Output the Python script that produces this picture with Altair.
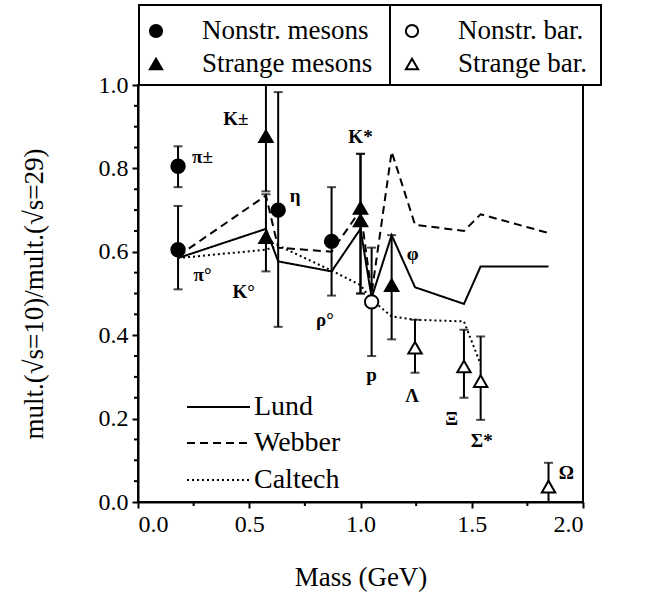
import altair as alt
import pandas as pd

FONT = "Liberation Serif"

nm_names = ["π±", "π°", "η", "ρ°"]
nm_mass = [0.18, 0.18, 0.63, 0.87]
nm_val = [0.805, 0.605, 0.70, 0.625]
nm_lo = [0.755, 0.51, 0.42, 0.495]
nm_hi = [0.853, 0.71, 0.983, 0.755]

sm_names = ["K±", "K°", "K*", "K*", "φ"]
sm_mass = [0.575, 0.575, 1.0, 1.0, 1.14]
sm_val = [0.877, 0.635, 0.705, 0.675, 0.52]
sm_lo = [0.745, 0.553, 0.50, 0.50, 0.39]
sm_hi = [1.0, 0.738, 0.835, 0.835, 0.64]

nb_names = ["p"]
nb_mass = [1.05]
nb_val = [0.48]
nb_lo = [0.35]
nb_hi = [0.61]

sb_names = ["Λ", "Ξ", "Σ*", "Ω"]
sb_mass = [1.245, 1.465, 1.54, 1.845]
sb_val = [0.37, 0.325, 0.29, 0.037]
sb_lo = [0.31, 0.25, 0.197, 0.0]
sb_hi = [0.437, 0.413, 0.397, 0.094]

# ---- model curves ----
model_mass = [0.18, 0.575, 0.63, 0.87, 1.0, 1.05, 1.14, 1.245, 1.465, 1.54, 1.845]
lund = [0.585, 0.655, 0.577, 0.553, 0.655, 0.49, 0.64, 0.515, 0.475, 0.565, 0.565]
webber = [0.59, 0.735, 0.61, 0.60, 0.70, 0.50, 0.84, 0.665, 0.65, 0.69, 0.645]
caltech = [0.585, 0.605, 0.615, 0.555, 0.52, 0.485, 0.445, 0.437, 0.433, 0.33]

# ---- particle labels ----
label_text = ["π±", "π°", "K±", "K°", "η", "ρ°", "K*", "φ", "p", "Λ", "Ξ", "Σ*", "Ω"]
label_x = [0.29, 0.29, 0.44, 0.475, 0.706, 0.84, 1.0, 1.234, 1.05, 1.232, 1.41, 1.545, 1.925]
label_y = [0.827, 0.545, 0.918, 0.503, 0.735, 0.437, 0.875, 0.595, 0.305, 0.255, 0.198, 0.146, 0.07]

x_ticks = [0.0, 0.5, 1.0, 1.5, 2.0]
x_minor = [0.25, 0.75, 1.25, 1.75]
y_ticks = [0.0, 0.2, 0.4, 0.6, 0.8, 1.0]
y_minor = [0.05, 0.1, 0.15, 0.25, 0.3, 0.35, 0.45, 0.5, 0.55, 0.65, 0.7, 0.75, 0.85, 0.9, 0.95]

groups = ["Nonstr. mesons", "Strange mesons", "Nonstr. bar.", "Strange bar."]

rows = []
for g, names, m, v, lo, hi in [
    (groups[0], nm_names, nm_mass, nm_val, nm_lo, nm_hi),
    (groups[1], sm_names, sm_mass, sm_val, sm_lo, sm_hi),
    (groups[2], nb_names, nb_mass, nb_val, nb_lo, nb_hi),
    (groups[3], sb_names, sb_mass, sb_val, sb_lo, sb_hi),
]:
    for i in range(len(names)):
        rows.append({"group": g, "name": names[i], "mass": m[i], "val": v[i], "lo": lo[i], "hi": hi[i]})
pts = pd.DataFrame(rows)

mrows = []
for name, vals in [("Lund", lund), ("Webber", webber), ("Caltech", caltech)]:
    for i, v in enumerate(vals):
        mrows.append({"model": name, "mass": model_mass[i], "val": v, "order": i})
models = pd.DataFrame(mrows)

labels = pd.DataFrame({"t": label_text, "x": label_x, "y": label_y})

W, H = 445, 417
xs = alt.Scale(domain=[0, 2], nice=False)
ys = alt.Scale(domain=[0, 1], nice=False)

X = alt.X("mass:Q", scale=xs, axis=alt.Axis(values=x_ticks, format=".1f", title="Mass (GeV)"))
Y = alt.Y("val:Q", scale=ys, axis=alt.Axis(values=y_ticks, format=".1f", title="mult.(√s=10)/mult.(√s=29)"))

dash = {"Lund": [1, 0], "Webber": [8, 5], "Caltech": [2, 3]}
line_layers = []
for name in ["Lund", "Webber", "Caltech"]:
    line_layers.append(
        alt.Chart(models[models.model == name]).mark_line(color="black", strokeWidth=2, strokeDash=dash[name]).encode(
            x=alt.X("mass:Q", scale=xs), y=alt.Y("val:Q", scale=ys), order="order:Q")
    )

bars = alt.Chart(pts).mark_rule(color="black", strokeWidth=2).encode(
    x=alt.X("mass:Q", scale=xs), y=alt.Y("lo:Q", scale=ys), y2="hi:Q")
cap_lo = alt.Chart(pts).mark_tick(color="black", orient="horizontal", size=9, thickness=2).encode(
    x=alt.X("mass:Q", scale=xs), y=alt.Y("lo:Q", scale=ys))
cap_hi = alt.Chart(pts).mark_tick(color="black", orient="horizontal", size=9, thickness=2).encode(
    x=alt.X("mass:Q", scale=xs), y=alt.Y("hi:Q", scale=ys))

markers = alt.Chart(pts).mark_point(stroke="black", strokeWidth=2, opacity=1, fillOpacity=1, size=180).encode(
    x=X, y=Y,
    shape=alt.Shape("group:N", scale=alt.Scale(domain=groups, range=["circle", "triangle-up", "circle", "triangle-up"]), legend=None),
    fill=alt.Fill("group:N", scale=alt.Scale(domain=groups, range=["black", "black", "white", "white"]), legend=None),
)

texts = alt.Chart(labels).mark_text(font=FONT, fontSize=19, fontWeight="bold", color="black", align="center", baseline="middle").encode(
    x=alt.X("x:Q", scale=xs), y=alt.Y("y:Q", scale=ys), text="t:N")

xminor = alt.Chart(pd.DataFrame({"m": x_minor})).mark_rule(color="black", strokeWidth=2).encode(
    x=alt.X("m:Q", scale=xs), y=alt.value(H), y2=alt.value(H + 4))
yminor = alt.Chart(pd.DataFrame({"m": y_minor})).mark_rule(color="black", strokeWidth=2).encode(
    y=alt.Y("m:Q", scale=ys), x=alt.value(0), x2=alt.value(-4))

one = pd.DataFrame({"k": [0]})


def txt(s, x, y, size, align="left"):
    return alt.Chart(one).mark_text(text=s, align=align, baseline="middle", font=FONT, fontSize=size, color="black").encode(
        x=alt.value(x), y=alt.value(y))


def hline(x1, x2, y, dsh):
    return alt.Chart(one).mark_rule(color="black", strokeWidth=2, strokeDash=dsh).encode(
        x=alt.value(x1), x2=alt.value(x2), y=alt.value(y))


def sym(shape, fill, x, y):
    return alt.Chart(one).mark_point(shape=shape, fill=fill, fillOpacity=1, stroke="black", strokeWidth=2, size=150, opacity=1).encode(
        x=alt.value(x), y=alt.value(y))


# line-style key (lower left)
key = [
    hline(49, 112, 322, [1, 0]), txt("Lund", 116, 322, 28),
    hline(49, 112, 358, [8, 5]), txt("Webber", 116, 358, 28),
    hline(49, 112, 395, [2, 3]), txt("Caltech", 116, 395, 28),
]

# symbol key box (top)
box = alt.Chart(one).mark_rect(fillOpacity=0, stroke="black", strokeWidth=2).encode(
    x=alt.value(1), x2=alt.value(463), y=alt.value(-80), y2=alt.value(0))
divider = alt.Chart(one).mark_rule(color="black", strokeWidth=2).encode(
    x=alt.value(252), y=alt.value(-80), y2=alt.value(0))
topkey = [
    box, divider,
    sym("circle", "black", 18, -54), txt("Nonstr. mesons", 64, -54, 27),
    sym("triangle-up", "black", 18, -21), txt("Strange mesons", 64, -21, 27),
    sym("circle", "white", 274, -54), txt("Nonstr. bar.", 320, -54, 27),
    sym("triangle-up", "white", 274, -21), txt("Strange bar.", 320, -21, 27),
]

chart = alt.layer(
    *line_layers, bars, cap_lo, cap_hi, markers, texts, xminor, yminor, *key, *topkey
).properties(
    width=W, height=H,
    autosize=alt.AutoSizeParams(type="none"),
    padding={"left": 138, "top": 85, "right": 651 - 138 - W, "bottom": 601 - 85 - H},
).configure_view(
    stroke="black", strokeWidth=2
).configure_axis(
    grid=False, domainColor="black", domainWidth=2, tickColor="black", tickWidth=2, tickSize=6,
    labelFont=FONT, labelFontSize=24, labelColor="black", labelPadding=4,
    titleFont=FONT, titleFontSize=27, titleFontWeight="normal", titleColor="black",
).configure_axisX(titlePadding=28).configure_axisY(titlePadding=50)

chart.save("out.html", embed_options={"renderer": "svg", "actions": False})
